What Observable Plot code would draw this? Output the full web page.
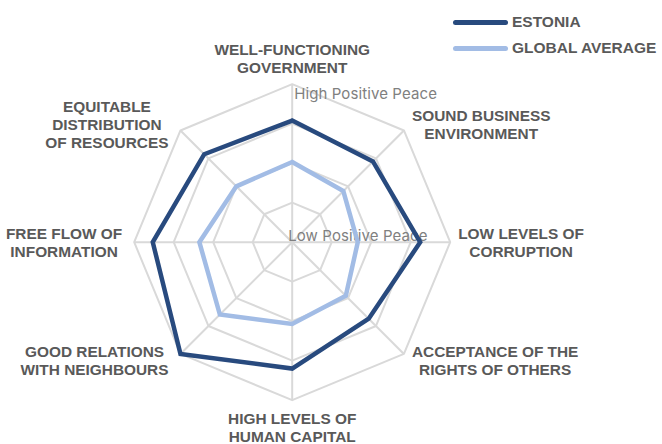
<!DOCTYPE html>
<html>
<head>
<meta charset="utf-8">
<script src="https://cdn.jsdelivr.net/npm/d3@7"></script>
<script src="https://cdn.jsdelivr.net/npm/@observablehq/plot@0.6"></script>
<style>
  html, body { margin: 0; padding: 0; background: #ffffff; }
  #wrap { position: relative; width: 662px; height: 444px; overflow: hidden; }
  #legend { position: absolute; left: 453px; top: 12px; font-family: "Liberation Sans", Arial, sans-serif; font-weight: 700; font-size: 15.5px; color: #595959; }
  .li { display: flex; align-items: center; height: 20px; margin-bottom: 6px; }
  .sw { width: 55px; height: 5px; border-radius: 3px; margin-right: 4px; }
</style>
</head>
<body>
<div id="wrap"></div>
<script>
// ---- data ----
const categories = [
  "WELL-FUNCTIONING\nGOVERNMENT",
  "SOUND BUSINESS\nENVIRONMENT",
  "LOW LEVELS OF\nCORRUPTION",
  "ACCEPTANCE OF THE\nRIGHTS OF OTHERS",
  "HIGH LEVELS OF\nHUMAN CAPITAL",
  "GOOD RELATIONS\nWITH NEIGHBOURS",
  "FREE FLOW OF\nINFORMATION",
  "EQUITABLE\nDISTRIBUTION\nOF RESOURCES"
];
const estonia   = [3.08, 2.89, 3.24, 2.74, 3.20, 4.00, 3.53, 3.15];
const globalAvg = [2.03, 1.83, 1.66, 1.92, 2.07, 2.59, 2.35, 2.00];
const seriesNames = ["ESTONIA", "GLOBAL AVERAGE"];
const seriesColors = ["#284a7e", "#a2bce5"];
const ringLevels = [1, 2, 3, 4];
const scaleLabels = ["Low Positive Peace", "High Positive Peace"];

// ---- layout ----
const W = 662, H = 444;
const cx = 291.7, cy = 241.7, R = 158, maxV = 4;
const pxPerUnit = R / maxV;
const n = categories.length;
const ang = i => (i * 2 * Math.PI) / n;
const px = (i, r) => r * Math.sin(ang(i));
const py = (i, r) => r * Math.cos(ang(i));

const labelFamily = "'Liberation Sans', Arial, sans-serif";
const labelSize = 15.4;
const ctx = document.createElement("canvas").getContext("2d");
ctx.font = `700 ${labelSize}px 'Liberation Sans'`;
const textW = s => d3.max(s.split("\n"), l => ctx.measureText(l).width);

// grid rings
const ringPts = ringLevels.flatMap(r =>
  d3.range(n + 1).map(k => ({ring: r, x: px(k % n, r), y: py(k % n, r)})));
// spokes
const spokes = categories.map((c, i) => ({x2: px(i, maxV), y2: py(i, maxV)}));
// series
const seriesPts = [estonia, globalAvg].flatMap((vals, s) =>
  d3.range(n + 1).map(k => ({series: seriesNames[s], x: px(k % n, vals[k % n]), y: py(k % n, vals[k % n])})));

// category labels
const labels = categories.map((c, i) => {
  const vx = px(i, maxV), vy = py(i, maxV);
  const s = Math.sin(ang(i)), co = Math.cos(ang(i));
  const w = textW(c);
  if (Math.abs(s) < 1e-6) {
    return {text: c, x: 0, y: vy + (co > 0 ? 11 : -11) / pxPerUnit, anchor: co > 0 ? "bottom" : "top"};
  }
  const gap = s > 0 ? 8 : 12;
  const diag = Math.abs(co) > 1e-6;
  return {
    text: c,
    x: vx + Math.sign(s) * (gap + w / 2) / pxPerUnit,
    y: vy + (diag ? Math.sign(co) * 6 / pxPerUnit : 0),
    anchor: "middle"
  };
});

const chart = Plot.plot({
  width: W, height: H,
  margin: 0,
  x: {domain: [-maxV, maxV], range: [cx - R, cx + R], axis: null},
  y: {domain: [-maxV, maxV], range: [cy + R, cy - R], axis: null},
  style: {background: "transparent", fontFamily: "Inter, 'Noto Sans', sans-serif"},
  marks: [
    Plot.line(ringPts, {x: "x", y: "y", z: "ring", stroke: "#d9d9d9", strokeWidth: 2}),
    Plot.link(spokes, {x1: 0, y1: 0, x2: "x2", y2: "y2", stroke: "#d9d9d9", strokeWidth: 2}),
    Plot.text([scaleLabels[0]], {x: 0, y: 0, text: d => d, textAnchor: "start", dx: -4, dy: -6, fontSize: 15, fill: "#808080"}),
    Plot.text([scaleLabels[1]], {x: 0, y: maxV, text: d => d, textAnchor: "start", dx: 2, dy: 10, fontSize: 15, fill: "#808080"}),
    Plot.line(seriesPts, {x: "x", y: "y", z: "series", stroke: d => d.series, strokeWidth: 4.5, strokeLinejoin: "miter", strokeMiterlimit: 10}),
    ...labels.map(l => Plot.text([l], {x: "x", y: "y", text: "text", lineAnchor: l.anchor, textAnchor: "middle",
      fontSize: labelSize, fontWeight: 700, fontFamily: labelFamily, fill: "#595959", lineHeight: 18 / labelSize}))
  ],
  color: {domain: seriesNames, range: seriesColors}
});
chart.querySelectorAll("g[fill='#808080']").forEach(g => g.setAttribute("letter-spacing", "0.1px"));
const wrap = document.getElementById("wrap");
wrap.appendChild(chart);

const legend = document.createElement("div");
legend.id = "legend";
seriesNames.forEach((name, i) => {
  const row = document.createElement("div");
  row.className = "li";
  const sw = document.createElement("div");
  sw.className = "sw";
  sw.style.background = seriesColors[i];
  const tx = document.createElement("span");
  tx.textContent = name;
  row.appendChild(sw); row.appendChild(tx);
  legend.appendChild(row);
});
wrap.appendChild(legend);
</script>
</body>
</html>
